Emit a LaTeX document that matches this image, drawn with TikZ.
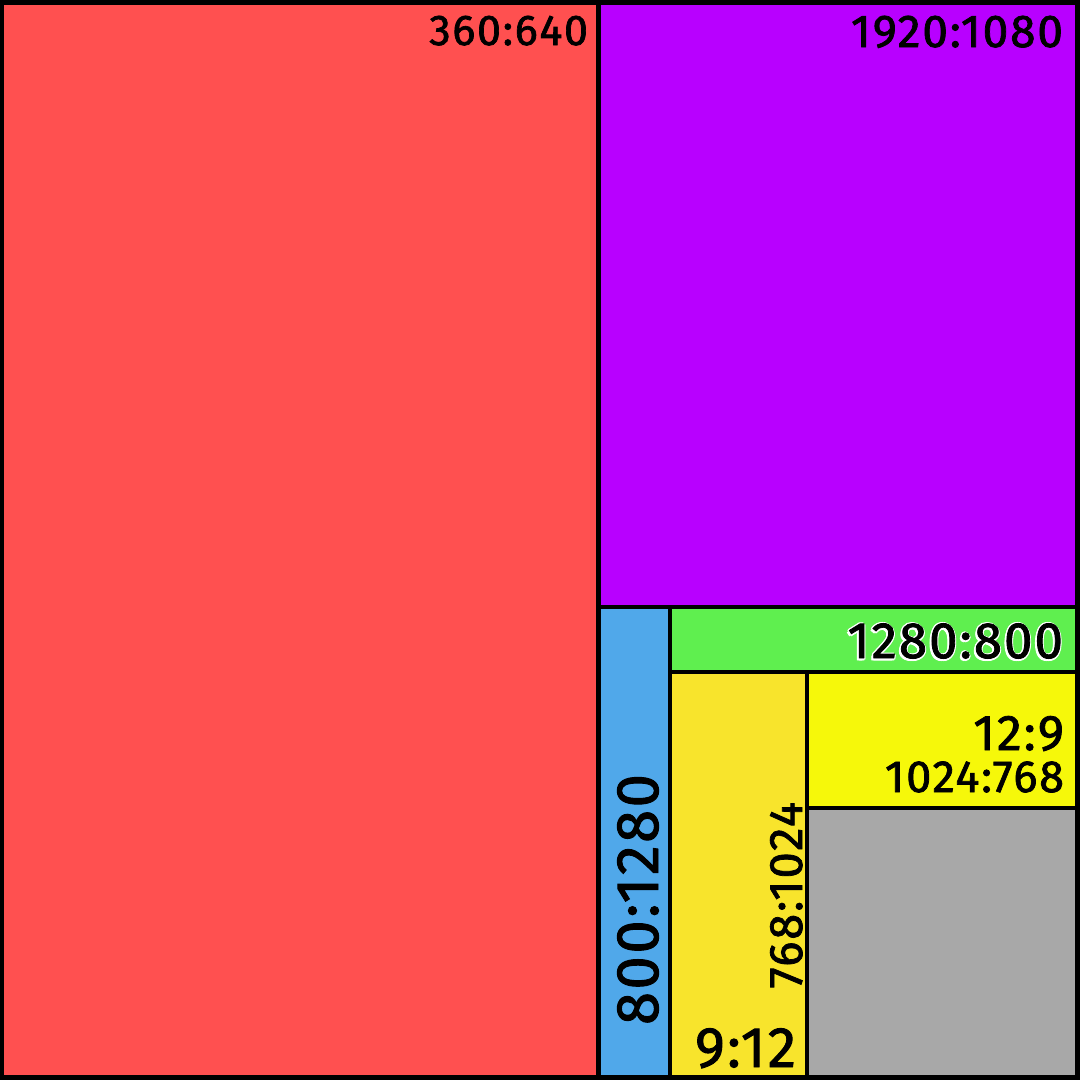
\documentclass[tikz,border=0pt]{standalone}
\usepackage{fontspec}
\usepackage{xcolor}
\usepackage{tikz}
\usetikzlibrary{positioning}
\newfontfamily\ratiofont[FakeBold=1.6, LetterSpace=4]{Fira Sans}
\definecolor{tileRed}{HTML}{FF5050}
\definecolor{tilePurple}{HTML}{B800FF}
\definecolor{tileBlue}{HTML}{50A8EA}
\definecolor{tileGreen}{HTML}{5FEF4F}
\definecolor{tileGold}{HTML}{F8E42C}
\definecolor{tileYellow}{HTML}{F6F80A}
\definecolor{tileGray}{HTML}{A8A8A8}

\begin{document}
\begin{tikzpicture}[x=1pt, y=-1pt]
    \tikzstyle{edge}=[black, line width=4.5pt]
    \tikzstyle{ratio}=[inner sep=0pt, outer sep=0pt, text=black]
    \useasboundingbox (0,0) rectangle (1080,1080);

    % tiles
    \fill[tileRed]    (0,0)       rectangle (598.5,1080);
    \fill[tilePurple] (598.5,0)   rectangle (1080,607);
    \fill[tileBlue]   (598.5,607) rectangle (670,1080);
    \fill[tileGreen]  (670,607)   rectangle (1080,672);
    \fill[tileGold]   (670,672)   rectangle (807,1080);
    \fill[tileYellow] (807,672)   rectangle (1080,808);
    \fill[tileGray]   (807,808)   rectangle (1080,1080);

    % borders
    \draw[edge] (2,2.25) rectangle (1077.5,1077.5);
    \draw[edge] (598.5,0) -- (598.5,1080);
    \draw[edge] (598.5,607) -- (1080,607);
    \draw[edge] (670,607) -- (670,1080);
    \draw[edge] (670,672) -- (1080,672);
    \draw[edge] (807,672) -- (807,1080);
    \draw[edge] (807,808) -- (1080,808);

    % labels
    \node[ratio, anchor=base east, font=\ratiofont\fontsize{43}{43}\selectfont] (r1) at (588,45) {360:640};
    \node[ratio, anchor=base east, font=\ratiofont\fontsize{46}{46}\selectfont] (r2) at (1063,47) {1920:1080};
    \foreach \dx/\dy in {-2/2, -1.5/0, 0/2, 1/1, -1/-1}
        \node[ratio, anchor=base east, text=white, font=\ratiofont\fontsize{51}{51}\selectfont] at (1063+\dx,658+\dy) {1280:800};
    \node[ratio, anchor=base east, font=\ratiofont\fontsize{51}{51}\selectfont] (r3) at (1063,658) {1280:800};
    \node[ratio, anchor=base east, font=\ratiofont\fontsize{50}{50}\selectfont] (r4) at (1064,750) {12:9};
    \node[ratio, anchor=base east, font=\ratiofont\fontsize{45}{45}\selectfont] (r5) at (1064,792) {1024:768};
    \node[ratio, anchor=base east, rotate=90, font=\ratiofont\fontsize{60}{60}\selectfont] (r6) at (658,774) {800:1280};
    \node[ratio, anchor=base east, rotate=90, font=\ratiofont\fontsize{47}{47}\selectfont] (r7) at (802,802) {768:1024};
    \node[ratio, anchor=base east, font=\ratiofont\fontsize{57}{57}\selectfont] (r8) at (796,1067) {9:12};
\end{tikzpicture}
\end{document}
